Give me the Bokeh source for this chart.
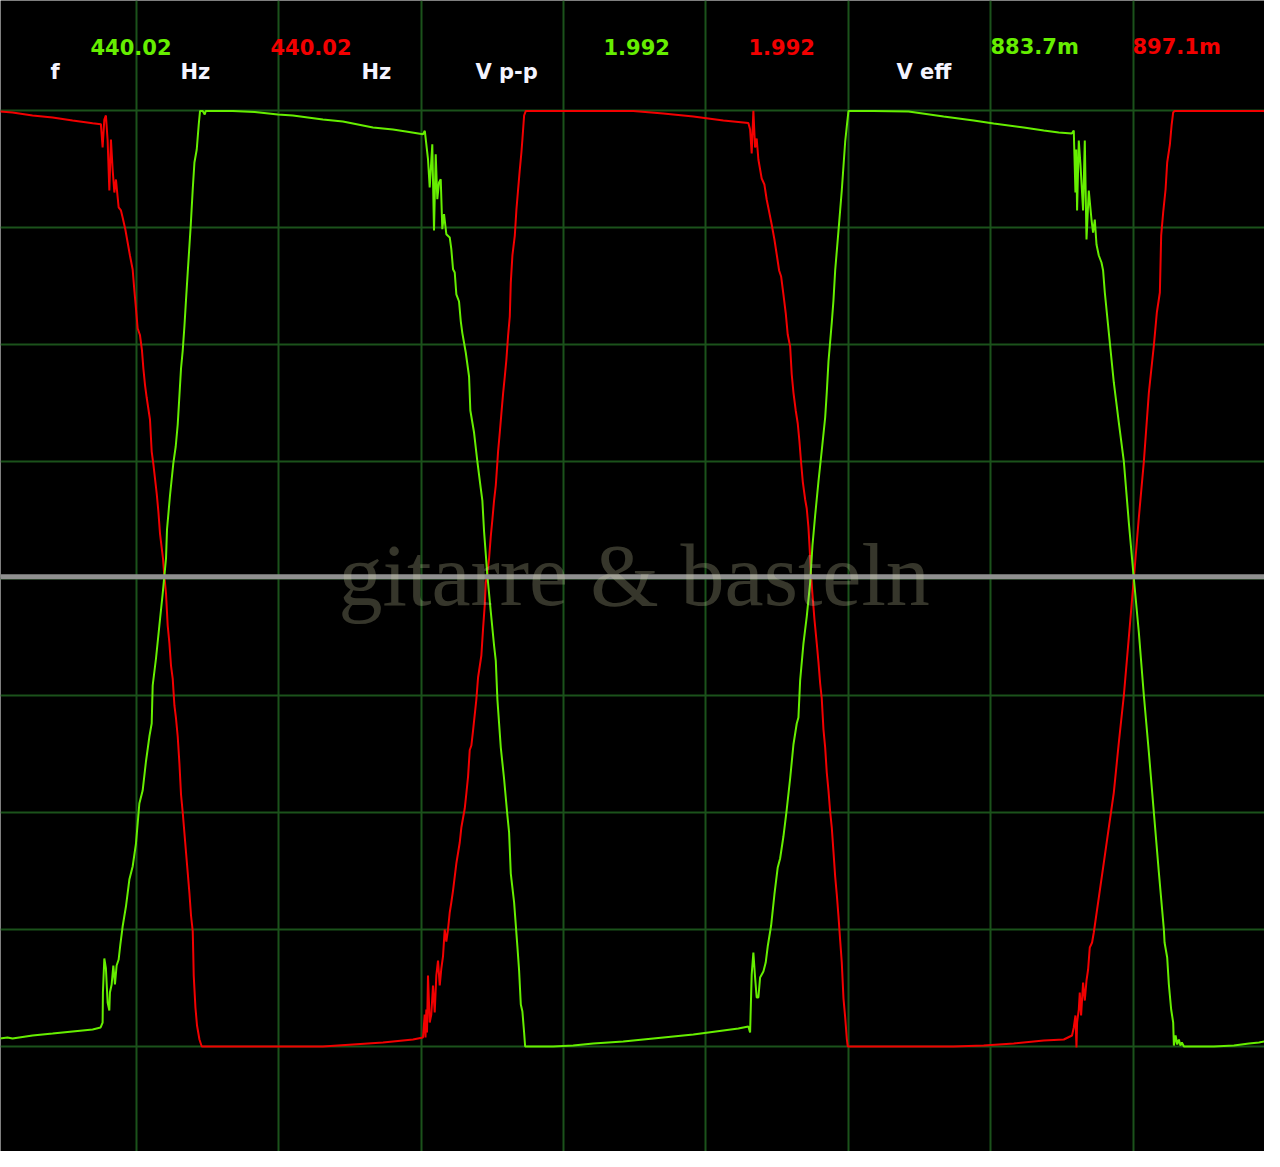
from bokeh.plotting import figure
from bokeh.models import Range1d, Grid, SingleIntervalTicker, Span, Label
from bokeh.embed import file_html
from bokeh.resources import INLINE

# ---- data: time in ms, voltage in V (0.5 ms/div, 0.25 V/div) ----
GREEN_T = [
    -0.0053, 0.0475, 0.0650, 0.1353, 0.2057, 0.2760, 0.3463, 0.3744,
    0.3814, 0.3825, 0.3874, 0.3930, 0.3990, 0.4050, 0.4071, 0.4131, 0.4190, 0.4247, 0.4306, 0.4377, 0.4436,
    0.4517, 0.4633, 0.4753, 0.4869, 0.4985, 0.5104, 0.5220, 0.5336, 0.5456, 0.5537, 0.5572, 0.5688, 0.5807,
    0.5924, 0.6040, 0.6075, 0.6180, 0.6300, 0.6381, 0.6451, 0.6567, 0.6627, 0.6686, 0.6743, 0.6802, 0.6908,
    0.6978, 0.7038, 0.7119, 0.7189, 0.7235,
    0.7330, 0.7400, 0.7435, 0.8384, 0.9158, 0.9966, 1.0494, 1.1548, 1.2251, 1.3306, 1.4009, 1.4466, 1.5063,
    1.5127, 1.5239, 1.5299, 1.5390, 1.5450, 1.5510, 1.5566, 1.5626, 1.5686, 1.5742, 1.5802, 1.5883, 1.6002,
    1.6058, 1.6118, 1.6178, 1.6234,
    1.6329, 1.6389, 1.6445, 1.6565, 1.6681, 1.6726, 1.6856, 1.6972, 1.7092, 1.7148, 1.7208, 1.7324, 1.7443,
    1.7559, 1.7619, 1.7676, 1.7795, 1.7911, 1.8027, 1.8087, 1.8146, 1.8263, 1.8378, 1.8438, 1.8498, 1.8554,
    1.8614, 1.8650,
    1.9633, 2.0337, 2.1040, 2.2094, 2.3149, 2.4555, 2.5610, 2.6137, 2.6488, 2.6549,
    2.6605, 2.6664, 2.6724, 2.6780, 2.6840, 2.6900, 2.7016, 2.7097,
    2.7167, 2.7287, 2.7403, 2.7519, 2.7603, 2.7719, 2.7835, 2.7955, 2.8071, 2.8187, 2.8246, 2.8306, 2.8422,
    2.8538, 2.8658, 2.8739, 2.8833, 2.8949, 2.9065, 2.9185, 2.9241, 2.9301, 2.9417, 2.9476, 2.9536, 2.9653,
    2.9768, 2.9888, 2.9944, 3.0004,
    3.0883, 3.2113, 3.3344, 3.4398, 3.5101, 3.6156, 3.6860, 3.7386, 3.7843,
    3.7914, 3.7973, 3.8001, 3.8030, 3.8090, 3.8149, 3.8241, 3.8301, 3.8361, 3.8441, 3.8536, 3.8592, 3.8652,
    3.8712, 3.8793, 3.8887, 3.8944, 3.9004,
    3.9144, 3.9320, 3.9496, 3.9672, 3.9847, 4.0023, 4.0199, 4.0375, 4.0551, 4.0726, 4.0902, 4.1078, 4.1102,
    4.1194, 4.1253, 4.1334, 4.1405, 4.1429,
    4.1489, 4.1545, 4.1605, 4.1658, 4.1710, 4.1781, 4.2835, 4.3538, 4.4066, 4.4417, 4.4769, 4.4944,
]
GREEN_V = [
    -0.9844, -0.9801, -0.9823, -0.9758, -0.9716, -0.9673, -0.9630, -0.9587,
    -0.9481, -0.8840, -0.8113, -0.8327, -0.9053, -0.9224, -0.8840, -0.8669, -0.8263, -0.8669, -0.8263, -0.8134, -0.7814,
    -0.7429, -0.7002, -0.6425, -0.6147, -0.5656, -0.4801, -0.4523, -0.3903, -0.3369, -0.3091, -0.2279, -0.1702, -0.0997,
    -0.0313, 0.0435, 0.1055, 0.1781, 0.2486, 0.2828, 0.3298, 0.4495, 0.4880, 0.5393, 0.5970, 0.6547, 0.7551,
    0.8320, 0.8897, 0.9175, 0.9709, 1.0000,
    1.0000, 0.9923, 1.0000, 1.0000, 0.9976, 0.9923, 0.9902, 0.9816, 0.9773, 0.9645, 0.9603, 0.9560, 0.9502,
    0.9575, 0.8968, 0.8363, 0.9288, 0.7444, 0.9075, 0.8113, 0.8470, 0.8540, 0.7472, 0.7793, 0.7365, 0.7295,
    0.7045, 0.6617, 0.6547, 0.6081,
    0.5927, 0.5510, 0.5252, 0.4837, 0.4324, 0.3598, 0.3127, 0.2508, 0.1931, 0.1674, 0.1012, 0.0072, -0.0698,
    -0.1424, -0.1745, -0.2578, -0.3604, -0.4277, -0.5057, -0.5420, -0.6297, -0.6916, -0.7857, -0.8369, -0.9096, -0.9246,
    -0.9694, -0.9994,
    -0.9994, -0.9972, -0.9930, -0.9887, -0.9823, -0.9737, -0.9652, -0.9609, -0.9566, -0.9694,
    -0.8455, -0.7985, -0.8519, -0.8946, -0.8946, -0.8519, -0.8391, -0.8199,
    -0.7857, -0.7408, -0.6745, -0.6168, -0.5976, -0.5506, -0.4929, -0.4266, -0.3540, -0.3091, -0.2963, -0.2172, -0.1382,
    -0.0805, -0.0078, 0.0713, 0.1354, 0.2080, 0.2743, 0.3448, 0.3982, 0.4645, 0.5478, 0.5948, 0.6589, 0.7444,
    0.8299, 0.9346, 0.9667, 1.0000,
    1.0000, 0.9987, 0.9880, 0.9795, 0.9731, 0.9645, 0.9581, 0.9538, 0.9517,
    0.9581, 0.8256, 0.9175, 0.7872, 0.9367, 0.8855, 0.7872, 0.9367, 0.7252, 0.8299, 0.7679, 0.7401, 0.7679,
    0.7145, 0.6910, 0.6760, 0.6589, 0.6119,
    0.5264, 0.4196, 0.3341, 0.2508, 0.1204, 0.0007, -0.1146, -0.2493, -0.3711, -0.4993, -0.6275, -0.7493, -0.7771,
    -0.8092, -0.8669, -0.9203, -0.9481, -0.9972,
    -0.9758, -0.9951, -0.9844, -0.9972, -0.9908, -0.9994, -0.9994, -0.9972, -0.9930, -0.9908, -0.9866, -0.9844,
]

RED_T = [
    -0.0053, 0.0650, 0.1353, 0.2057, 0.2760, 0.3463, 0.3754,
    0.3814, 0.3874, 0.3930, 0.3990, 0.4050, 0.4106, 0.4166, 0.4226, 0.4282, 0.4377, 0.4458, 0.4517, 0.4612,
    0.4693, 0.4774, 0.4869, 0.4929,
    0.4985, 0.5045, 0.5125, 0.5196, 0.5245, 0.5301, 0.5361, 0.5477, 0.5537, 0.5597, 0.5713, 0.5772, 0.5829,
    0.5934, 0.5983, 0.6040, 0.6099, 0.6159, 0.6215, 0.6275, 0.6335, 0.6391, 0.6451, 0.6511, 0.6567, 0.6627,
    0.6743, 0.6802, 0.6862, 0.6918, 0.6978, 0.6996, 0.7013, 0.7073, 0.7129, 0.7214, 0.7294,
    0.9087, 1.1548, 1.2603, 1.3657, 1.4712, 1.5063,
    1.5123, 1.5151, 1.5180, 1.5204, 1.5239, 1.5299, 1.5355, 1.5415, 1.5475, 1.5531, 1.5591, 1.5651, 1.5707,
    1.5767, 1.5826, 1.5883, 1.5942, 1.6002, 1.6058, 1.6118,
    1.6234, 1.6354, 1.6410, 1.6529, 1.6586, 1.6646, 1.6705, 1.6762, 1.6821, 1.6937, 1.6997, 1.7113, 1.7173,
    1.7233, 1.7268, 1.7324, 1.7384, 1.7443, 1.7500, 1.7559, 1.7619, 1.7665, 1.7700, 1.7760, 1.7816, 1.7876,
    1.7936, 1.7992, 1.8052, 1.8111, 1.8146, 1.8203, 1.8287, 1.8344, 1.8403, 1.8463, 1.8519, 1.8554, 1.8614, 1.8674,
    1.9633, 2.2446, 2.3501, 2.4555, 2.5610, 2.6137, 2.6488, 2.6549,
    2.6605, 2.6664, 2.6724, 2.6780, 2.6840, 2.6956, 2.7051, 2.7131, 2.7216, 2.7307, 2.7403, 2.7484, 2.7568,
    2.7639, 2.7719, 2.7800, 2.7870, 2.7955, 2.8011, 2.8071, 2.8151, 2.8222, 2.8282, 2.8341, 2.8398, 2.8482,
    2.8538, 2.8598, 2.8658, 2.8693, 2.8739, 2.8809, 2.8890, 2.8949, 2.9009, 2.9065, 2.9125, 2.9185, 2.9241,
    2.9301, 2.9361, 2.9417, 2.9476, 2.9536, 2.9593, 2.9653, 2.9712, 2.9768, 2.9828, 2.9888, 2.9944, 2.9979,
    3.1586, 3.3695, 3.4750, 3.5804, 3.6860, 3.7563, 3.7853,
    3.7914, 3.7973, 3.8009, 3.8030, 3.8090, 3.8125, 3.8171, 3.8241, 3.8301, 3.8361, 3.8417, 3.8476, 3.8557,
    3.8617, 3.8793, 3.8969, 3.9144, 3.9320, 3.9496, 3.9672, 3.9847, 4.0023, 4.0199, 4.0375, 4.0551, 4.0726,
    4.0831, 4.0937, 4.0983, 4.1053, 4.1137, 4.1194, 4.1289, 4.1348, 4.1405, 4.1454, 4.4944,
]
RED_V = [
    1.0000, 0.9966, 0.9902, 0.9859, 0.9795, 0.9737, 0.9716,
    0.9218, 0.9816, 0.9902, 0.9367, 0.8299, 0.9389, 0.8748, 0.8256, 0.8534, 0.7936, 0.7872, 0.7722, 0.7465,
    0.7188, 0.6910, 0.6611, 0.6162,
    0.5777, 0.5350, 0.5211, 0.4880, 0.4495, 0.4153, 0.3875, 0.3405, 0.2721, 0.2444, 0.1824, 0.1439, 0.0969,
    0.0435, 0.0050, -0.0313, -0.0997, -0.1371, -0.1852, -0.2130, -0.2706, -0.2984, -0.3369, -0.3946, -0.4608, -0.4993,
    -0.5848, -0.6275, -0.6713, -0.7194, -0.7525, -0.7985, -0.8476, -0.9160, -0.9545, -0.9844, -0.9994,
    -0.9994, -0.9994, -0.9951, -0.9908, -0.9844, -0.9801,
    -0.9310, -0.9801, -0.9203, -0.9694, -0.8476, -0.9481, -0.9310, -0.8690, -0.9267, -0.8476, -0.8156, -0.8690, -0.8327,
    -0.8060, -0.7493, -0.7750, -0.7493, -0.7130, -0.6916, -0.6660,
    -0.6083, -0.5634, -0.5314, -0.4908, -0.4587, -0.4224, -0.3657, -0.3561, -0.3241, -0.2578, -0.2108, -0.1638, -0.1061,
    -0.0548, -0.0078, 0.0125, 0.0435, 0.0905, 0.1268, 0.1674, 0.1995, 0.2401, 0.2721, 0.3127, 0.3533, 0.3961,
    0.4324, 0.4687, 0.5200, 0.5606, 0.6333, 0.6910, 0.7337, 0.7893, 0.8320, 0.8748, 0.9111, 0.9389, 0.9902, 1.0000,
    1.0000, 1.0000, 0.9944, 0.9880, 0.9795, 0.9765, 0.9739, 0.9603,
    0.9090, 1.0000, 0.9218, 0.9410, 0.8961, 0.8555, 0.8427, 0.8107, 0.7850, 0.7572, 0.7252, 0.6931, 0.6589,
    0.6461, 0.6077, 0.5681, 0.5222, 0.4965, 0.4367, 0.3982, 0.3598, 0.3320, 0.2935, 0.2476, 0.2080, 0.1696,
    0.1503, 0.1097, 0.0456, 0.0050, -0.0334, -0.0869, -0.1382, -0.1777, -0.2236, -0.2557, -0.3219, -0.3604, -0.4138,
    -0.4523, -0.4982, -0.5314, -0.5826, -0.6361, -0.6745, -0.7216, -0.7728, -0.8199, -0.8968, -0.9374, -0.9823, -0.9994,
    -0.9994, -0.9994, -0.9972, -0.9930, -0.9866, -0.9844, -0.9758,
    -0.9587, -0.9331, -1.0015, -0.9481, -0.9203, -0.8840, -0.9331, -0.8626, -0.9011, -0.8583, -0.8348, -0.7878, -0.7771,
    -0.7557, -0.6810, -0.6062, -0.5314, -0.4566, -0.3497, -0.2493, -0.1253, 0.0007, 0.1311, 0.2508, 0.3982, 0.4987,
    0.5692, 0.6119, 0.7337, 0.7829, 0.8320, 0.8897, 0.9282, 0.9688, 0.9966, 1.0000, 1.0000,
]

ZERO_MARK = 0.0044          # position of the grey reference line (V)
TIME_DIV = 0.5              # ms per division
VOLT_DIV = 0.25             # V per division

HEADER_VALUES = ["440.02", "440.02", "1.992", "1.992", "883.7m", "897.1m"]
HEADER_CHANNEL = ["green", "red", "green", "red", "green", "red"]
UNIT_LABELS = ["f", "Hz", "Hz", "V p-p", "V eff"]
WATERMARK = "gitarre & basteln"

GREEN = "#66ee00"
RED = "#f20000"

W, H = 1264, 1151
p = figure(width=W, height=H, output_backend="svg", toolbar_location=None,
           x_range=Range1d(0.02285, 4.4611), y_range=Range1d(-1.2237, 1.2359),
           x_axis_location=None, y_axis_location=None, min_border=0,
           background_fill_color="black", border_fill_color="black",
           outline_line_color=None, tools="")
p.grid.visible = False

p.add_layout(Grid(dimension=0, ticker=SingleIntervalTicker(interval=TIME_DIV, num_minor_ticks=0),
                  grid_line_color="#1b521b", grid_line_width=2))
p.add_layout(Grid(dimension=1, ticker=SingleIntervalTicker(interval=VOLT_DIV, num_minor_ticks=0),
                  grid_line_color="#1b521b", grid_line_width=2))

p.line(RED_T, RED_V, line_color=RED, line_width=2)
p.line(GREEN_T, GREEN_V, line_color=GREEN, line_width=2)

p.add_layout(Span(location=ZERO_MARK, dimension="width", line_color="#909090", line_width=5))

# header readouts (screen units: x from left, y from bottom)
value_x = [90, 270, 603, 748, 990, 1132]
for txt, ch, x in zip(HEADER_VALUES, HEADER_CHANNEL, value_x):
    p.add_layout(Label(x=x, y=1105, x_units="screen", y_units="screen", text=txt,
                       text_color=GREEN if ch == "green" else RED, text_font="DejaVu Sans",
                       text_font_style="bold", text_font_size="21px", text_baseline="alphabetic"))
unit_x = [50, 180, 361, 475, 896]
for txt, x in zip(UNIT_LABELS, unit_x):
    p.add_layout(Label(x=x, y=1080, x_units="screen", y_units="screen", text=txt,
                       text_color="#f4f4ff", text_font="DejaVu Sans",
                       text_font_style="bold", text_font_size="21px", text_baseline="alphabetic"))

p.add_layout(Label(x=338, y=576, x_units="screen", y_units="screen", text=WATERMARK,
                   text_color="#d0d0a8", text_alpha=0.26, text_font="Liberation Serif",
                   text_font_size="88px", text_baseline="alphabetic"))

open("out.html", "w").write(file_html(p, INLINE))
